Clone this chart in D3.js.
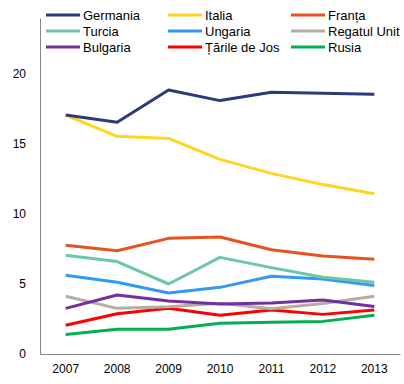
<!DOCTYPE html>
<html><head><meta charset="utf-8">
<script src="https://cdn.jsdelivr.net/npm/d3@7"></script>
<style>body{margin:0;background:#fff}svg{display:block}text{font-family:"Liberation Sans",Arial,sans-serif}</style>
</head><body>
<svg id="c" width="404" height="384"></svg>
<script>
const years = ["2007","2008","2009","2010","2011","2012","2013"];
const yTicks = [0,5,10,15,20];
const seriesNames = ["Germania","Italia","Franța","Turcia","Ungaria","Regatul Unit","Bulgaria","Țările de Jos","Rusia"];
const seriesColors = ["#2E3A78","#FFD61F","#E8521E","#6CC7A4","#3399F5","#B8ABA3","#7030A0","#FF0000","#00B050"];
const germania = [17.07,16.55,18.86,18.1,18.7,18.62,18.55];
const italia = [17.07,15.55,15.4,13.9,12.9,12.1,11.45];
const franta = [7.76,7.38,8.26,8.36,7.45,7.0,6.76];
const turcia = [7.05,6.6,5.0,6.9,6.17,5.48,5.12];
const ungaria = [5.62,5.12,4.36,4.76,5.55,5.36,4.9];
const regatulUnit = [4.12,3.26,3.38,3.62,3.24,3.6,4.12];
const bulgaria = [3.26,4.21,3.79,3.57,3.64,3.86,3.4];
const tarileDeJos = [2.05,2.88,3.26,2.76,3.14,2.83,3.14];
const rusia = [1.4,1.76,1.76,2.19,2.26,2.33,2.76];
const seriesValues = [germania,italia,franta,turcia,ungaria,regatulUnit,bulgaria,tarileDeJos,rusia];

const svg = d3.select("#c");
const x = d3.scaleBand().domain(years).range([40,400]);
const y = d3.scaleLinear().domain([0,24]).range([354,18]);

const xAxis = svg.append("g").attr("transform","translate(0,354)")
  .call(d3.axisBottom(x).tickSize(0).tickPadding(10));
const yAxis = svg.append("g").attr("transform","translate(40,0)")
  .call(d3.axisLeft(y).tickValues(yTicks).tickSize(0).tickPadding(14));
[xAxis,yAxis].forEach(a=>{
  a.select(".domain").attr("stroke","#868686").attr("stroke-width",1);
  a.selectAll("text").attr("font-size",12).attr("fill","#000").style("font-family","'Liberation Sans',Arial,sans-serif");
});

const line = d3.line().x((d,i)=>x(years[i])+x.bandwidth()/2).y(d=>y(d));
const order = [8,7,5,6,4,3,2,1,0];
order.forEach(k=>{
  svg.append("path").datum(seriesValues[k]).attr("d",line)
    .attr("fill","none").attr("stroke",seriesColors[k]).attr("stroke-width",3)
    .attr("stroke-linejoin","round");
});

const colX = [46,168,291];
const rowY = [15,31,47];
seriesNames.forEach((n,i)=>{
  const cx = colX[i%3], cy = rowY[Math.floor(i/3)];
  svg.append("line").attr("x1",cx).attr("x2",cx+34).attr("y1",cy).attr("y2",cy)
    .attr("stroke",seriesColors[i]).attr("stroke-width",3);
  svg.append("text").attr("x",cx+37).attr("y",cy).attr("dy","0.35em")
    .attr("font-size",13).attr("fill","#000").text(n);
});
</script>
</body></html>
